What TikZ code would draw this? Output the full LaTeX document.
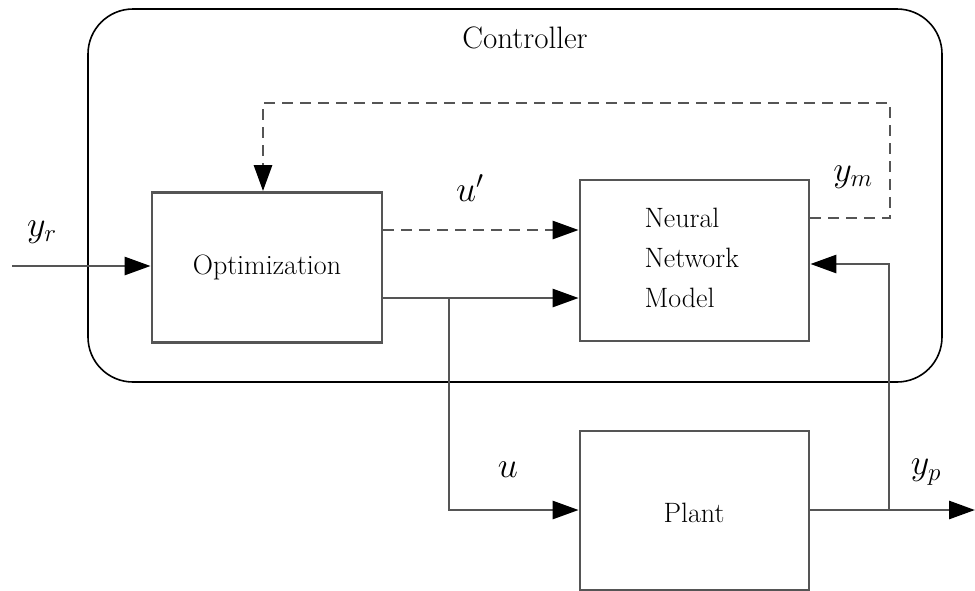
\documentclass[tikz,border=0pt]{standalone}
\usetikzlibrary{arrows.meta}
\definecolor{linec}{HTML}{555555}
\begin{document}
\begin{tikzpicture}[x=1pt,y=-1pt,
  wire/.style={draw=linec,line width=2.8pt},
  dsh/.style={wire,dash pattern=on 11pt off 7pt},
  arr/.style={-{Triangle[length=26pt,width=18pt,color=black]}},
  blk/.style={draw=linec,line width=2.8pt,inner sep=0pt},
  txt/.style={font=\fontsize{28}{32}\selectfont},
  lbl/.style={font=\fontsize{24}{28}\selectfont,scale=1.45}]
\useasboundingbox (0,0) rectangle (975,590);
\fill[white] (0,0) rectangle (975,590);
% controller frame
\draw[draw=black,line width=1.6pt,rounded corners=45pt] (88,9) rectangle (942,382);
\node[font=\fontsize{31}{34}\selectfont,anchor=center] (ctl) at (525,38) {Controller};
% blocks
\node[blk,minimum width=230pt,minimum height=150pt] (opt) at (267,267.5) {};
\node[txt] (optt) at (opt.center) {Optimization};
\node[blk,minimum width=229pt,minimum height=161pt] (nn) at (694.5,260.5) {};
\node[txt,align=left,anchor=west] (nnt) at (641,258) {Neural\\[8pt]Network\\[8pt]Model};
\node[blk,minimum width=229pt,minimum height=159pt] (pl) at (694.5,510.5) {};
\node[txt] (plt) at (694,513) {Plant};
% coordinates
\coordinate (yin) at (12,266);
\coordinate (yout) at (975,510);
\coordinate (bu) at (449,298);
\coordinate (bud) at (449,510);
\coordinate (by) at (889,510);
\coordinate (byu) at (889,264);
\coordinate (dm1) at (890,218);
\coordinate (dm2) at (890,103);
\coordinate (dm3) at (263,103);
% connectors
\draw[wire,arr] (yin) -- (opt.west |- yin);
\draw[dsh,arr] (opt.east |- 0,230) -- (nn.west |- 0,230);
\draw[wire,arr] (opt.east |- bu) -- (nn.west |- bu);
\draw[wire,arr] (bu) -- (bud) -- (pl.west |- bud);
\draw[wire,arr] (pl.east |- by) -- (yout);
\draw[wire,arr] (by) -- (byu) -- (nn.east |- byu);
\draw[dsh,arr] (nn.east |- dm1) -- (dm1) -- (dm2) -- (dm3) -- (opt.north -| dm3);
% labels
\node[lbl] (lyr) at (42,232) {$y_r$};
\node[lbl] (lup) at (470,188) {$u'$};
\node[lbl] (lym) at (853,177) {$y_m$};
\node[lbl] (lu) at (508,470) {$u$};
\node[lbl] (lyp) at (926,472) {$y_p$};
\end{tikzpicture}
\end{document}
